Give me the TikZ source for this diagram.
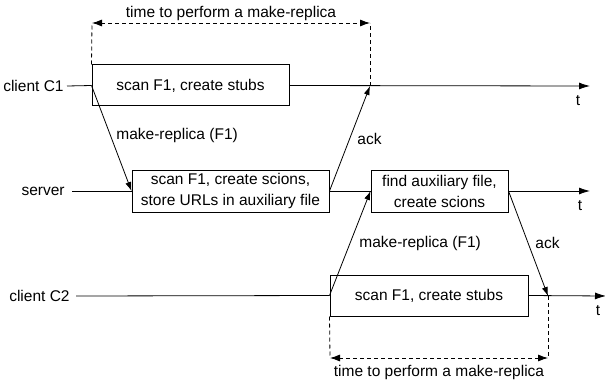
\documentclass[tikz,border=0pt]{standalone}
\usepackage{fontspec}
\setmainfont{Liberation Sans}
\usetikzlibrary{arrows.meta,calc}
\begin{document}
\begin{tikzpicture}[x=1pt,y=-1pt,
  font=\fontsize{15.5}{21}\selectfont,
  line width=0.8pt,
  box/.style={draw,line width=1pt,align=center,inner sep=0pt},
  lbl/.style={inner sep=0pt},
  arr/.style={-{Latex[length=9pt,width=6pt]}},
  axis/.style={-{Latex[length=11pt,width=7pt]}},
  tipline/.style={solid,-{Latex[length=10pt,width=7pt]}},
  guide/.style={dash pattern=on 4pt off 3pt}]
\useasboundingbox (0,0) rectangle (605,385);

% labels of the lines
\node[lbl,anchor=east] (c1l) at (64,86) {client C1};
\node[lbl,anchor=east] (svl) at (65,191) {server};
\node[lbl,anchor=east] (c2l) at (70,296) {client C2};

% boxes
\node[box,minimum width=197pt,minimum height=41pt] (b1) at (190.5,85.5) {scan F1, create stubs};
\node[box,minimum width=197pt,minimum height=42pt] (s1) at (230.5,191) {scan F1, create scions,\\store URLs in auxiliary file};
\node[box,minimum width=137pt,minimum height=42pt] (s2) at (439.5,191) {find auxiliary file,\\create scions};
\node[box,minimum width=198pt,minimum height=41pt] (b2) at (429,295.5) {scan F1, create stubs};

% axis ends and t labels
\coordinate (c1end) at (590,86);
\coordinate (svend) at (590,191);
\coordinate (c2end) at (606,296);
\node[lbl] (t1) at (578,101) {t};
\node[lbl] (t2) at (580,206) {t};
\node[lbl] (t3) at (598,311) {t};

% time lines
\draw (c1l.east) ++(3,0) coordinate (c1s) (c1s) -- (b1.west);
\draw[axis] (b1.east) -- (c1end);
\draw (svl.east) ++(7,0) coordinate (svs) (svs) -- (s1.west);
\draw (s1.east) -- (s2.west);
\draw[axis] (s2.east) -- (svend);
\draw (c2l.east) ++(6,0) coordinate (c2s) (c2s) -- (b2.west);
\draw[axis] (b2.east) -- (c2end);

% messages
\coordinate (ack1) at (370,86);
\coordinate (ack2) at (548,296);
\draw[arr] (b1.west) -- (s1.west);
\draw[arr] (s1.east) -- (ack1);
\draw[arr] (b2.west) -- (s2.west);
\draw[arr] (s2.east) -- (ack2);
\node[lbl,anchor=west] (m1) at (116,135) {make-replica (F1)};
\node[lbl,anchor=west] (a1) at (357,139) {ack};
\node[lbl,anchor=west] (m2) at (359,243) {make-replica (F1)};
\node[lbl,anchor=west] (a2) at (535,243) {ack};

% time spans
\coordinate (d1a) at (92,23);
\coordinate (d1b) at (370,23);
\draw[guide] (b1.north west) -- (d1a);
\draw[guide] (ack1) -- (d1b);
\draw[guide,shorten <=9pt,shorten >=9pt] (d1a) -- (d1b);
\draw[tipline] ($(d1a)!10pt!(d1b)$) -- (d1a);
\draw[tipline] ($(d1b)!10pt!(d1a)$) -- (d1b);
\node[lbl] (tt1) at (231,13) {time to perform a make-replica};

\coordinate (d2a) at (330,358);
\coordinate (d2b) at (548,358);
\draw[guide] (b2.south west) -- (d2a);
\draw[guide] (ack2) -- (d2b);
\draw[guide,shorten <=9pt,shorten >=9pt] (d2a) -- (d2b);
\draw[tipline] ($(d2a)!10pt!(d2b)$) -- (d2a);
\draw[tipline] ($(d2b)!10pt!(d2a)$) -- (d2b);
\node[lbl] (tt2) at (439,372) {time to perform a make-replica};
\end{tikzpicture}
\end{document}
